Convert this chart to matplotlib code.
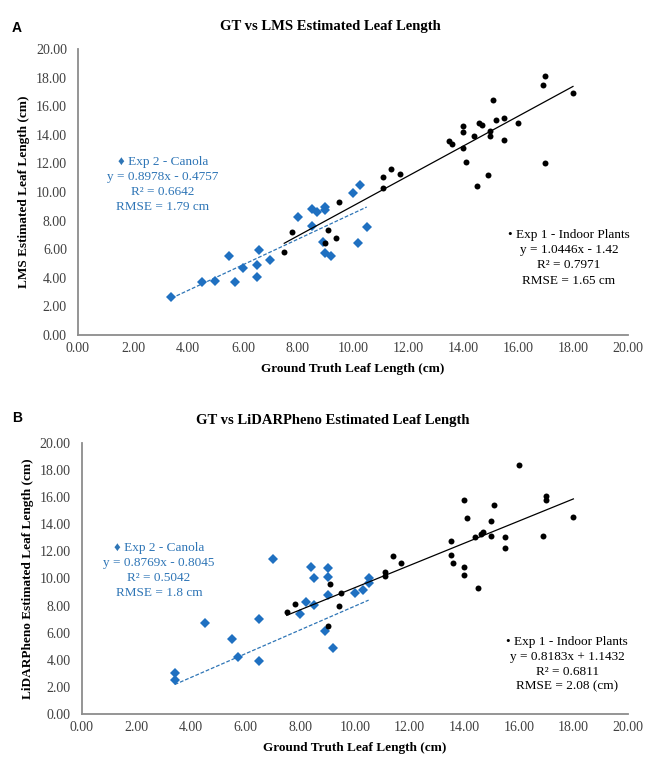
import matplotlib
matplotlib.use('Agg')
import numpy as np
import matplotlib.pyplot as plt

# panel A - LMS estimate
a_exp1_x = [7.5, 7.8, 9.1, 9.0, 9.4, 9.5, 11.1, 11.1, 11.4, 11.7, 13.5, 13.6, 14.0, 14.0,
            14.0, 14.1, 14.4, 14.6, 14.7, 14.5, 14.9, 15.0, 15.0, 15.1, 15.2, 15.5, 15.5,
            16.0, 16.9, 17.0, 17.0, 18.0]
a_exp1_y = [5.78, 7.18, 7.34, 6.45, 6.76, 9.32, 10.26, 11.07, 11.58, 11.24, 13.59, 13.36, 14.64, 14.22,
            13.06, 12.12, 13.94, 14.8, 14.69, 10.42, 11.19, 14.29, 13.92, 16.41, 15.01, 15.2, 13.64,
            14.8, 17.48, 18.09, 12.0, 16.92]
a_exp2_x = [3.4, 4.5, 5.0, 5.5, 5.7, 6.0, 6.5, 6.5, 6.6, 7.0, 8.0, 8.5, 8.5, 8.7, 9.0, 9.0,
            8.9, 9.0, 9.2, 10.0, 10.25, 10.2, 10.5]
a_exp2_y = [2.64, 3.73, 3.78, 5.5, 3.73, 4.66, 4.03, 4.9, 5.92, 5.27, 8.27, 7.6, 8.79, 8.62, 8.93, 8.74,
            6.48, 5.71, 5.55, 9.95, 10.5, 6.45, 7.53]

# panel B - LiDARPheno estimate
b_exp1_x = [7.5, 7.8, 9.1, 9.0, 9.5, 9.4, 11.1, 11.1, 11.4, 11.7, 13.5, 13.5, 13.6, 14.0,
            14.1, 14.0, 14.0, 14.5, 14.4, 14.6, 14.7, 15.0, 15.1, 15.0, 15.5, 15.5, 16.0,
            17.0, 17.0, 16.9, 18.0]
b_exp1_y = [7.53, 8.09, 9.59, 6.49, 8.9, 7.99, 10.5, 10.18, 11.68, 11.12, 12.77, 11.71, 11.14, 15.82,
            14.46, 10.85, 10.26, 9.32, 13.06, 13.28, 13.45, 14.24, 15.42, 13.16, 13.09, 12.23, 18.4,
            16.09, 15.8, 13.14, 14.54]
b_exp2_x = [3.4, 3.4, 4.5, 5.5, 5.7, 6.5, 6.5, 7.0, 8.0, 8.2, 8.4, 8.5, 8.5, 8.9, 9.0, 9.0,
            9.0, 9.2, 10.0, 10.3, 10.5, 10.5]
b_exp2_y = [3.0, 2.5, 6.69, 5.56, 4.18, 7.01, 3.94, 11.44, 7.38, 8.24, 10.82, 10.01, 8.04, 6.15, 10.75, 10.09,
            8.78, 4.9, 8.95, 9.15, 10.01, 9.69]

# trendline coefficients as printed on the chart
a_fit1 = (1.0446, -1.42)
a_fit2 = (0.8978, -0.4757)
b_fit1 = (0.8183, 1.1432)
b_fit2 = (0.8769, -0.8045)

a_text1 = ['\u2022 Exp 1 - Indoor Plants', 'y = 1.0446x - 1.42', 'R\u00b2 = 0.7971', 'RMSE = 1.65 cm']
a_text2 = ['\u2666 Exp 2 - Canola', 'y = 0.8978x - 0.4757', 'R\u00b2 = 0.6642', 'RMSE = 1.79 cm']
b_text1 = ['\u2022 Exp 1 - Indoor Plants', 'y = 0.8183x + 1.1432', 'R\u00b2 = 0.6811', 'RMSE = 2.08 (cm)']
b_text2 = ['\u2666 Exp 2 - Canola', 'y = 0.8769x - 0.8045', 'R\u00b2 = 0.5042', 'RMSE = 1.8 cm']

ticks = np.arange(0, 21, 2)
serif = ['Liberation Serif', 'DejaVu Serif']
blue = '#1f70c1'
blue_txt = '#2e75b6'


def draw_panel(ax, e1x, e1y, e2x, e2y, fit1, fit2, txt1, pos1, txt2, pos2, title, title_x, ylabel, step):
    ax.plot(e2x, e2y, 'D', color=blue, markersize=5.4, markeredgewidth=0, zorder=3)
    ax.plot(e1x, e1y, 'o', color='black', markersize=4.3, markeredgewidth=0, zorder=4)
    xs = np.array([min(e1x), max(e1x)])
    ax.plot(xs, fit1[0] * xs + fit1[1], '-', color='black', lw=0.9, zorder=5)
    xs = np.array([min(e2x), max(e2x)])
    ax.plot(xs, fit2[0] * xs + fit2[1], '--', color=blue_txt, lw=0.9, dashes=(3, 1.5), zorder=2)

    ax.set_xlim(0, 20)
    ax.set_ylim(0, 20)
    ax.set_xticks(ticks)
    ax.set_yticks(ticks)
    ax.set_xticklabels(['%.2f' % t for t in ticks], fontfamily=serif, fontsize=10, color='#404040')
    ax.set_yticklabels(['%.2f' % t for t in ticks], fontfamily=serif, fontsize=10, color='#404040')
    ax.tick_params(length=0, pad=5)
    ax.tick_params(axis='y', pad=8)
    for s in ['top', 'right']:
        ax.spines[s].set_visible(False)
    for s in ['left', 'bottom']:
        ax.spines[s].set_color('#8c8c8c')
        ax.spines[s].set_linewidth(1.3)

    ax.set_title(title, fontfamily=serif, fontsize=10.5, fontweight='bold', pad=14, x=title_x)
    ax.set_xlabel('Ground Truth Leaf Length (cm)', fontfamily=serif, fontsize=9.5, fontweight='bold', labelpad=6)
    ax.set_ylabel(ylabel, fontfamily=serif, fontsize=9.5, fontweight='bold', labelpad=4)

    for i, line in enumerate(txt1):
        ax.text(pos1[0], pos1[1] - i * step, line, ha='center', va='center',
                fontfamily=serif, fontsize=9.5, color='black')
    for i, line in enumerate(txt2):
        ax.text(pos2[0], pos2[1] - i * step, line, ha='center', va='center',
                fontfamily=serif, fontsize=9.5, color=blue_txt)


fig = plt.figure(figsize=(6.66, 7.78), dpi=100)
ax1 = fig.add_axes([0.1171, 0.5694, 0.8258, 0.3676])
ax2 = fig.add_axes([0.1231, 0.0823, 0.8198, 0.3483])

draw_panel(ax1, a_exp1_x, a_exp1_y, a_exp2_x, a_exp2_y, a_fit1, a_fit2,
           a_text1, (17.85, 6.99), a_text2, (3.09, 12.1),
           'GT vs LMS Estimated Leaf Length', 0.458, 'LMS Estimated Leaf Length (cm)', 1.06)
draw_panel(ax2, b_exp1_x, b_exp1_y, b_exp2_x, b_exp2_y, b_fit1, b_fit2,
           b_text1, (17.77, 5.31), b_text2, (2.82, 12.25),
           'GT vs LiDARPheno Estimated Leaf Length', 0.46, 'LiDARPheno Estimated Leaf Length (cm)', 1.1)

fig.text(12 / 666, 1 - 28 / 778, 'A', fontfamily='Liberation Sans', fontweight='bold', fontsize=10, va='center')
fig.text(12 / 666, 1 - 418 / 778, 'B', fontfamily='Liberation Sans', fontweight='bold', fontsize=10, va='center')

fig.savefig('out.png', dpi=100)
